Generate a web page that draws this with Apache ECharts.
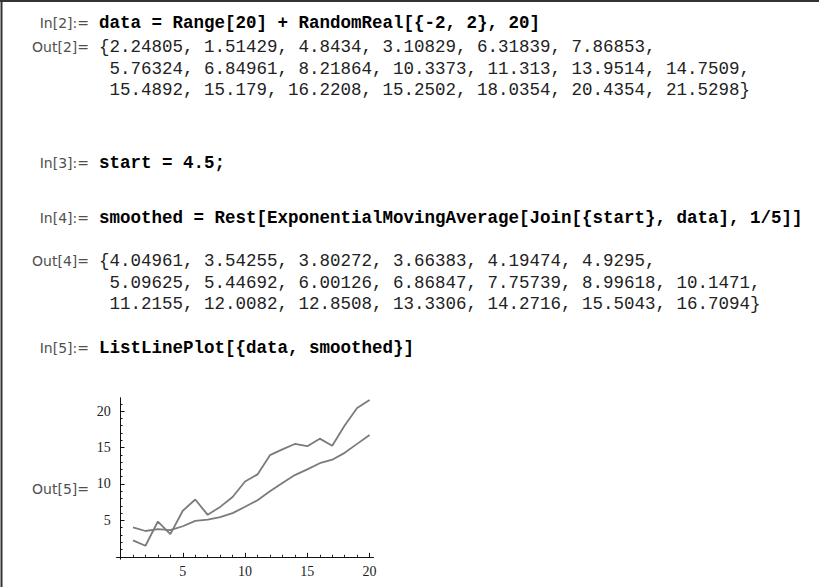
<!DOCTYPE html>
<html>
<head>
<meta charset="utf-8">
<script src="https://cdn.jsdelivr.net/npm/echarts@6/dist/echarts.min.js"></script>
<style>
  html, body { margin: 0; padding: 0; background: #fff; }
  #main { width: 819px; height: 587px; }
</style>
</head>
<body>
<div id="main"></div>
<script>
// values printed by the notebook
const steps = [1, 2, 3, 4, 5, 6, 7, 8, 9, 10, 11, 12, 13, 14, 15, 16, 17, 18, 19, 20];
const data = [2.24805, 1.51429, 4.8434, 3.10829, 6.31839, 7.86853,
  5.76324, 6.84961, 8.21864, 10.3373, 11.313, 13.9514, 14.7509,
  15.4892, 15.179, 16.2208, 15.2502, 18.0354, 20.4354, 21.5298];
const smoothed = [4.04961, 3.54255, 3.80272, 3.66383, 4.19474, 4.9295,
  5.09625, 5.44692, 6.00126, 6.86847, 7.75739, 8.99618, 10.1471,
  11.2155, 12.0082, 12.8508, 13.3306, 14.2716, 15.5043, 16.7094];

const xTickLabels = [5, 10, 15, 20];
const xMinorTicks = [1, 2, 3, 4, 5, 6, 7, 8, 9, 10, 11, 12, 13, 14, 15, 16, 17, 18, 19, 20];
const yTickLabels = [5, 10, 15, 20];
const yMinorTicks = [1, 2, 3, 4, 5, 6, 7, 8, 9, 10, 11, 12, 13, 14, 15, 16, 17, 18, 19, 20, 21];

// notebook cells: [label, text, bold, y]
const cells = [
  ["In[2]:=", "data = Range[20] + RandomReal[{-2, 2}, 20]", true, 23],
  ["Out[2]=", "{2.24805, 1.51429, 4.8434, 3.10829, 6.31839, 7.86853,", false, 47],
  ["", " 5.76324, 6.84961, 8.21864, 10.3373, 11.313, 13.9514, 14.7509,", false, 68.5],
  ["", " 15.4892, 15.179, 16.2208, 15.2502, 18.0354, 20.4354, 21.5298}", false, 90],
  ["In[3]:=", "start = 4.5;", true, 163],
  ["In[4]:=", "smoothed = Rest[ExponentialMovingAverage[Join[{start}, data], 1/5]]", true, 218],
  ["Out[4]=", "{4.04961, 3.54255, 3.80272, 3.66383, 4.19474, 4.9295,", false, 261],
  ["", " 5.09625, 5.44692, 6.00126, 6.86847, 7.75739, 8.99618, 10.1471,", false, 282.5],
  ["", " 11.2155, 12.0082, 12.8508, 13.3306, 14.2716, 15.5043, 16.7094}", false, 304],
  ["In[5]:=", "ListLinePlot[{data, smoothed}]", true, 348],
  ["Out[5]=", "", false, 489]
];

function notebookText() {
  const items = [];
  cells.forEach(([label, text, bold, y]) => {
    if (label) {
      items.push({
        type: "text", x: 89, y: y,
        style: { text: label, fill: "#505050", font: "14px 'DejaVu Sans'", textAlign: "right", textVerticalAlign: "middle" }
      });
    }
    if (text) {
      items.push({
        type: "text", x: 99, y: y,
        style: { text: text, fill: bold ? "#000" : "#222",
          font: (bold ? "bold " : "") + "17.5px 'Liberation Mono'", textVerticalAlign: "middle" }
      });
    }
  });
  // cell frame (top and left edge)
  items.push({ type: "line", shape: { x1: 0, y1: 1, x2: 819, y2: 1 }, style: { stroke: "#333", lineWidth: 2 } });
  items.push({ type: "line", shape: { x1: 1.5, y1: 0, x2: 1.5, y2: 587 }, style: { stroke: "#333", lineWidth: 2 } });
  return items;
}

function valueAxis(extra) {
  return Object.assign({
    type: "value",
    gridIndex: 0,
    splitLine: { show: false },
    axisLine: { show: true, onZero: true, lineStyle: { color: "#111", width: 1 } },
  }, extra);
}

const tickFont = { color: "#222", fontFamily: "Liberation Serif", fontSize: 14 };

const chart = echarts.init(document.getElementById("main"), null, { renderer: "svg" });
chart.setOption({
  animation: false,
  backgroundColor: "#fff",
  graphic: notebookText(),
  grid: { left: 116.8, top: 398, width: 256.5, height: 161, containLabel: false },
  xAxis: [
    valueAxis({
      min: -0.3, max: 20.3, position: "bottom",
      axisTick: { show: true, inside: true, length: 4, customValues: xTickLabels, lineStyle: { color: "#111" } },
      axisLabel: Object.assign({ margin: 5, customValues: xTickLabels }, tickFont),
    }),
    valueAxis({
      min: -0.3, max: 20.3, position: "bottom",
      axisTick: { show: true, inside: true, length: 2, customValues: xMinorTicks, lineStyle: { color: "#111" } },
      axisLabel: { show: false },
    }),
  ],
  yAxis: [
    valueAxis({
      min: -0.3, max: 21.8, position: "left",
      axisTick: { show: true, inside: true, length: 4, customValues: yTickLabels, lineStyle: { color: "#111" } },
      axisLabel: Object.assign({ margin: 6, customValues: yTickLabels }, tickFont),
    }),
    valueAxis({
      min: -0.3, max: 21.8, position: "left",
      axisTick: { show: true, inside: true, length: 2, customValues: yMinorTicks, lineStyle: { color: "#111" } },
      axisLabel: { show: false },
    }),
  ],
  series: [
    {
      name: "data", type: "line", xAxisIndex: 0, yAxisIndex: 0,
      data: steps.map((s, i) => [s, data[i]]),
      showSymbol: false, lineStyle: { color: "#7b7b7b", width: 1.8 },
    },
    {
      name: "smoothed", type: "line", xAxisIndex: 0, yAxisIndex: 0,
      data: steps.map((s, i) => [s, smoothed[i]]),
      showSymbol: false, lineStyle: { color: "#7b7b7b", width: 1.8 },
    },
  ],
});
</script>
</body>
</html>
